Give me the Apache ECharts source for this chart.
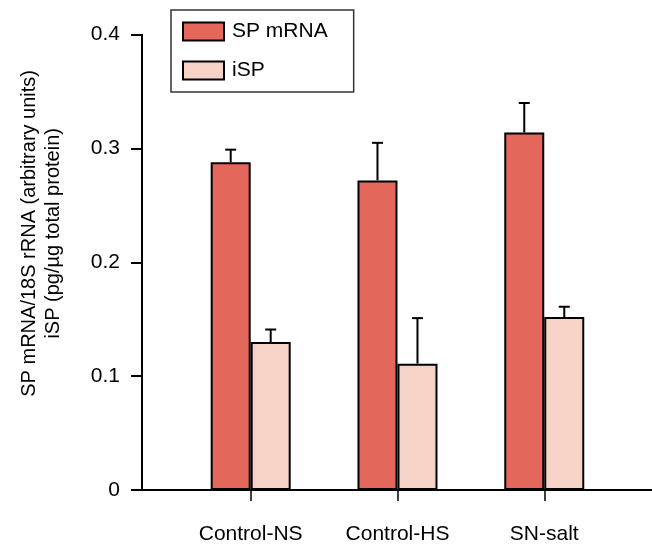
<!DOCTYPE html>
<html>
<head>
<meta charset="utf-8">
<script src="https://cdn.jsdelivr.net/npm/echarts@6/dist/echarts.min.js"></script>
<style>
  html, body { margin: 0; padding: 0; background: #fff; }
  #chart { width: 652px; height: 545px; }
</style>
</head>
<body>
<div id="chart"></div>
<script>
// ---- data ----
var categories = ['Control-NS', 'Control-HS', 'SN-salt'];
var spMrna = [0.288, 0.272, 0.314];
var spMrnaErr = [0.011, 0.033, 0.026];
var isp = [0.130, 0.111, 0.152];
var ispErr = [0.011, 0.040, 0.009];
var yTicks = [0, 0.1, 0.2, 0.3, 0.4];
var seriesNames = ['SP mRNA', 'iSP'];
var yTitle = 'SP mRNA/18S rRNA (arbitrary units)\niSP (pg/\u00b5g total protein)';

// ---- styles ----
var FONT = 'Liberation Sans';
var SP_COLOR = '#E4675B';
var ISP_COLOR = '#F6D2C7';
var BAR_W = 40;

var idx = categories.map(function (c, i) { return i; });
function pairs(vals) { return vals.map(function (v, i) { return [i, v]; }); }
function triples(vals, errs) { return vals.map(function (v, i) { return [i, v, errs[i]]; }); }

function errRenderer(offset) {
  return function (params, api) {
    var x = api.value(0), y = api.value(1), e = api.value(2);
    var p0 = api.coord([x, y]);
    var p1 = api.coord([x, y + e]);
    var cx = p0[0] + offset;
    var style = { stroke: '#000', lineWidth: 2 };
    return {
      type: 'group',
      children: [
        { type: 'line', shape: { x1: cx, y1: p0[1], x2: cx, y2: p1[1] }, style: style },
        { type: 'line', shape: { x1: cx - 5.5, y1: p1[1], x2: cx + 5.5, y2: p1[1] }, style: style }
      ]
    };
  };
}

var chart = echarts.init(document.getElementById('chart'), null, { renderer: 'canvas' });
chart.setOption({
  animation: false,
  backgroundColor: '#ffffff',
  textStyle: { fontFamily: FONT, color: '#000' },
  grid: { left: 142, right: 0, top: 34.7, bottom: 54.3, containLabel: false },
  legend: {
    orient: 'vertical',
    left: 171,
    top: 10,
    padding: [11, 26, 11, 11],
    itemGap: 18,
    itemWidth: 41,
    itemHeight: 18,
    icon: 'rect',
    borderColor: '#333',
    borderWidth: 1.5,
    textStyle: { fontFamily: FONT, fontSize: 21, color: '#000', padding: [0, 0, 0, 3], lineHeight: 18 },
    data: [
      { name: seriesNames[0], itemStyle: { color: SP_COLOR, borderColor: '#000', borderWidth: 2 } },
      { name: seriesNames[1], itemStyle: { color: ISP_COLOR, borderColor: '#000', borderWidth: 2 } }
    ]
  },
  xAxis: {
    type: 'value',
    min: -0.7405,
    max: 2.734,
    splitLine: { show: false },
    axisLine: { show: true, onZero: false, lineStyle: { color: '#000', width: 2 } },
    axisTick: { show: true, customValues: idx, length: 11, lineStyle: { color: '#000', width: 1.5 } },
    axisLabel: {
      customValues: idx,
      margin: 34,
      fontFamily: FONT,
      fontSize: 21,
      color: '#000',
      formatter: function (v) { return categories[Math.round(v)]; }
    }
  },
  yAxis: {
    type: 'value',
    min: yTicks[0],
    max: yTicks[yTicks.length - 1],
    interval: 0.1,
    splitLine: { show: false },
    axisLine: { show: true, onZero: false, lineStyle: { color: '#000', width: 2 } },
    axisTick: { show: true, length: 11, lineStyle: { color: '#000', width: 2 } },
    axisLabel: { margin: 22, fontFamily: FONT, fontSize: 21, color: '#000' },
    name: yTitle,
    nameLocation: 'middle',
    nameRotate: 90,
    nameGap: 77,
    nameTextStyle: { fontFamily: FONT, fontSize: 20, color: '#000', lineHeight: 24, align: 'center', padding: [0, 0, 0, 58] }
  },
  series: [
    {
      name: seriesNames[0],
      type: 'bar',
      barWidth: BAR_W,
      barGap: '0%',
      itemStyle: { color: SP_COLOR, borderColor: '#000', borderWidth: 2 },
      data: pairs(spMrna),
      z: 2
    },
    {
      name: seriesNames[1],
      type: 'bar',
      barWidth: BAR_W,
      barGap: '0%',
      itemStyle: { color: ISP_COLOR, borderColor: '#000', borderWidth: 2 },
      data: pairs(isp),
      z: 2
    },
    {
      type: 'custom',
      renderItem: errRenderer(-BAR_W / 2),
      encode: { x: 0, y: 1 },
      data: triples(spMrna, spMrnaErr),
      z: 3
    },
    {
      type: 'custom',
      renderItem: errRenderer(BAR_W / 2),
      encode: { x: 0, y: 1 },
      data: triples(isp, ispErr),
      z: 3
    }
  ]
});
</script>
</body>
</html>
